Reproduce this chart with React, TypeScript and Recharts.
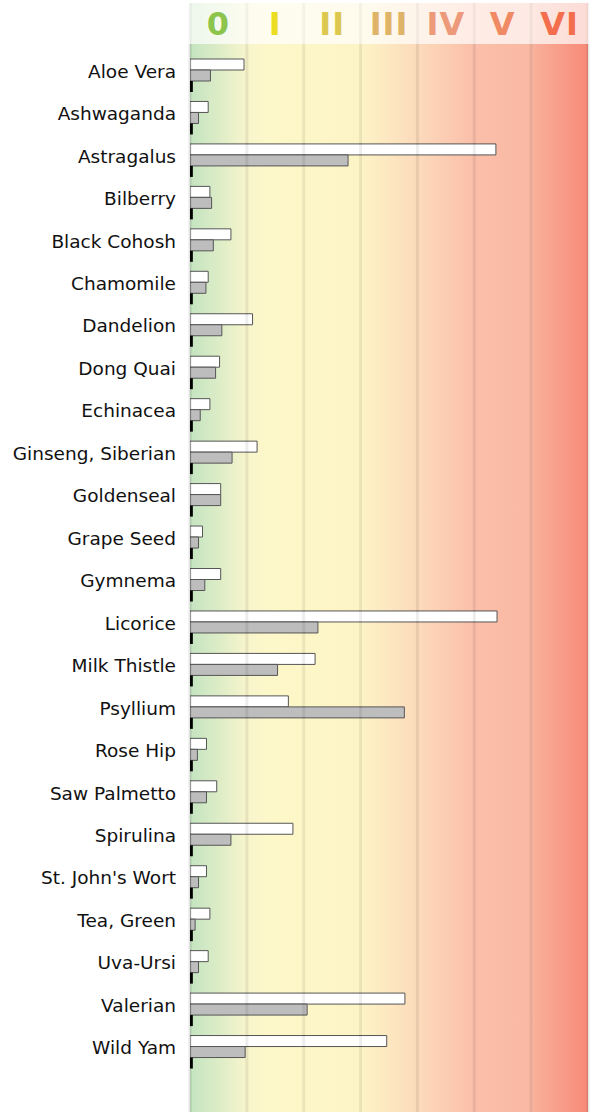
import React from 'react';
import { BarChart, Bar, XAxis, YAxis, ReferenceArea, ReferenceLine, CartesianGrid } from 'recharts';

const categories = [
  'Aloe Vera', 'Ashwaganda', 'Astragalus', 'Bilberry', 'Black Cohosh', 'Chamomile',
  'Dandelion', 'Dong Quai', 'Echinacea', 'Ginseng, Siberian', 'Goldenseal', 'Grape Seed',
  'Gymnema', 'Licorice', 'Milk Thistle', 'Psyllium', 'Rose Hip', 'Saw Palmetto',
  'Spirulina', "St. John's Wort", 'Tea, Green', 'Uva-Ursi', 'Valerian', 'Wild Yam',
];
const whiteValues = [
  0.95, 0.32, 5.38, 0.35, 0.72, 0.32, 1.10, 0.52, 0.35, 1.18, 0.54, 0.22,
  0.54, 5.40, 2.20, 1.73, 0.29, 0.47, 1.81, 0.29, 0.35, 0.32, 3.78, 3.46,
];
const grayValues = [
  0.36, 0.15, 2.78, 0.38, 0.41, 0.28, 0.56, 0.45, 0.18, 0.74, 0.54, 0.15,
  0.26, 2.25, 1.54, 3.77, 0.13, 0.29, 0.72, 0.15, 0.09, 0.15, 2.06, 0.97,
];
const blackValues = [
  0.05, 0.05, 0.05, 0.05, 0.05, 0.05, 0.05, 0.05, 0.05, 0.05, 0.05, 0.05,
  0.05, 0.05, 0.05, 0.05, 0.05, 0.05, 0.05, 0.05, 0.05, 0.05, 0.05, 0.05,
];
const zoneLabels = ['0', 'I', 'II', 'III', 'IV', 'V', 'VI'];
const zoneColors = ['#8cc44c', '#ecdc22', '#dcc84e', '#e0b468', '#ec9a7a', '#f08a64', '#f26e4c'];
const zoneBounds = [0, 1, 2, 3, 4, 5, 6, 7];

const data = categories.map((name, i) => ({
  name,
  white: whiteValues[i],
  gray: grayValues[i],
  black: blackValues[i],
}));

const headerData = [{ name: 'header' }];

const FONT = '"DejaVu Sans", Verdana, sans-serif';

const gradientStops: [number, string][] = [
  [0, '#c4e4c0'],
  [0.06, '#d8ebc6'],
  [0.143, '#f8f5cc'],
  [0.2, '#fdf8c9'],
  [0.4286, '#fdf4c6'],
  [0.5714, '#fcdabb'],
  [0.7143, '#fbbfa9'],
  [0.8571, '#fab8a3'],
  [0.87, '#f9ae99'],
  [1, '#f78a77'],
];

function Gradient({ id }: { id: string }) {
  return (
    <defs>
      <linearGradient id={id} x1="0" y1="0" x2="1" y2="0">
        {gradientStops.map(([o, c]) => (
          <stop key={o} offset={o} stopColor={c} />
        ))}
      </linearGradient>
    </defs>
  );
}

const CategoryTick = (props: any) => {
  const { x, y, payload } = props;
  return (
    <text x={x} y={y} dy={2.5} textAnchor="end" fontSize={18.5} fontFamily={FONT} fill="#111111">
      {payload.value}
    </text>
  );
};

export default function App() {
  return (
    <div style={{ position: 'absolute', left: 0, top: 0, width: 591, height: 1112, background: '#fff' }}>
      <BarChart
        width={591}
        height={44}
        data={headerData}
        layout="vertical"
        margin={{ top: 3, right: 3, left: 190, bottom: 0 }}
        style={{ display: 'block' }}
      >
        <Gradient id="hdrGrad" />
        <XAxis type="number" domain={[0, 7]} hide allowDataOverflow />
        <YAxis type="category" dataKey="name" hide />
        <CartesianGrid horizontal={false} vertical={false} fill="url(#hdrGrad)" fillOpacity={0.3} />
        {zoneBounds.map((b) => (
          <ReferenceLine key={'h' + b} x={b} stroke="#000" strokeOpacity={0.04} strokeWidth={3} ifOverflow="visible" />
        ))}
        {zoneLabels.map((lab, i) => (
          <ReferenceArea
            key={lab}
            x1={zoneBounds[i]}
            x2={zoneBounds[i + 1]}
            fill="none"
            stroke="none"
            label={{
              value: lab,
              position: 'center',
              fill: zoneColors[i],
              fontSize: 32,
              fontWeight: 'bold',
              fontFamily: FONT,
              letterSpacing: 1,
            }}
          />
        ))}
      </BarChart>
      <BarChart
        width={591}
        height={1068}
        data={data}
        layout="vertical"
        margin={{ top: 0, right: 3, left: 0, bottom: 0 }}
        barGap={0}
        barSize={11}
        style={{ display: 'block' }}
      >
        <Gradient id="bodyGrad" />
        <XAxis type="number" domain={[0, 7]} hide allowDataOverflow />
        <YAxis
          type="category"
          dataKey="name"
          width={190}
          axisLine={false}
          tickLine={false}
          tickMargin={8}
          interval={0}
          padding={{ top: 10, bottom: 39 }}
          tick={<CategoryTick />}
        />
        <CartesianGrid horizontal={false} vertical={false} fill="url(#bodyGrad)" fillOpacity={1} />
        {zoneBounds.map((b) => (
          <ReferenceLine key={'b' + b} x={b} stroke="#000" strokeOpacity={b === 0 || b === 7 ? 0.1 : 0.07} strokeWidth={3} ifOverflow="visible" />
        ))}
        <Bar dataKey="white" fill="#ffffff" stroke="#555555" strokeWidth={1} isAnimationActive={false} />
        <Bar dataKey="gray" fill="#bdbdbd" stroke="#555555" strokeWidth={1} isAnimationActive={false} />
        <Bar dataKey="black" fill="#000000" isAnimationActive={false} />
      </BarChart>
    </div>
  );
}
